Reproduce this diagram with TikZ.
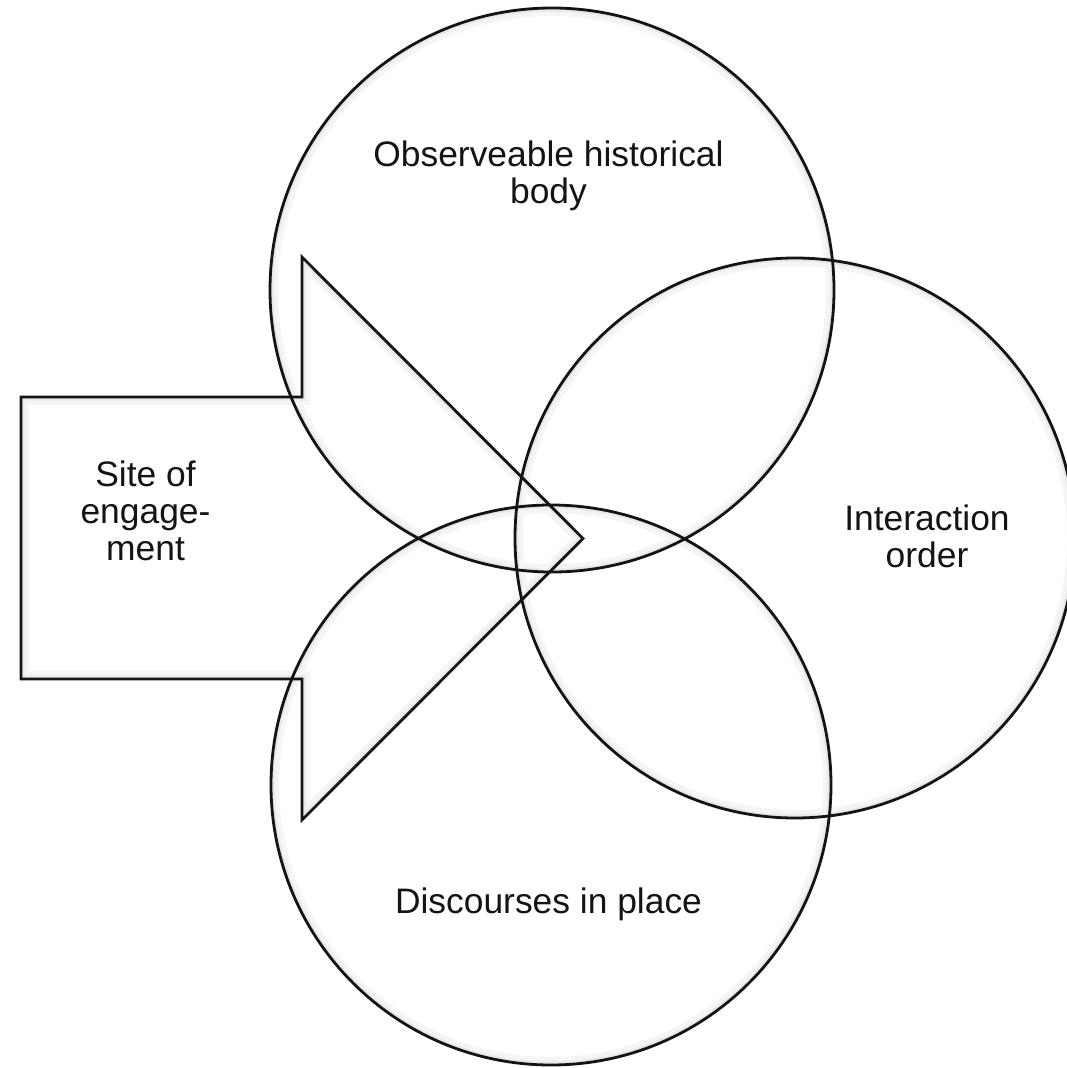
\documentclass[tikz,border=0pt]{standalone}
\usepackage{fontspec}
\setmainfont{Liberation Sans}
\begin{document}
\begin{tikzpicture}[x=1pt,y=-1pt,
  outline/.style={draw=black!92, line width=2.8pt},
  glowA/.style={draw=black!4, line width=16pt},
  glowB/.style={draw=black!9, line width=7pt},
  lbl/.style={align=center, inner sep=0pt, font=\fontsize{35.4}{37}\selectfont, text=black!92}]
\useasboundingbox (0,0) rectangle (1066,1068);
\fill[white] (0,0) rectangle (1066,1068);
\coordinate (cH) at (552,290);
\coordinate (cI) at (795,538);
\coordinate (cD) at (551,785);
% soft inner shading of the shapes
\begin{scope}
  \clip (cH) circle[radius=282];
  \draw[glowA] (cH) circle[radius=282];
  \draw[glowB] (cH) circle[radius=282];
\end{scope}
\begin{scope}
  \clip (cI) circle[radius=280];
  \draw[glowA] (cI) circle[radius=280];
  \draw[glowB] (cI) circle[radius=280];
\end{scope}
\begin{scope}
  \clip (cD) circle[radius=280];
  \draw[glowA] (cD) circle[radius=280];
  \draw[glowB] (cD) circle[radius=280];
\end{scope}
\begin{scope}
  \clip (21,397) -- (302,397) -- (302,257) -- (583,538.5) -- (302,820) -- (302,679) -- (21,679) -- cycle;
  \draw[glowA] (21,397) -- (302,397) -- (302,257) -- (583,538.5) -- (302,820) -- (302,679) -- (21,679) -- cycle;
  \draw[glowB] (21,397) -- (302,397) -- (302,257) -- (583,538.5) -- (302,820) -- (302,679) -- (21,679) -- cycle;
\end{scope}
% outlines
\draw[outline] (cH) circle[radius=282];
\draw[outline] (cI) circle[radius=280];
\draw[outline] (cD) circle[radius=280];
\draw[outline, line join=miter] (21,397) -- (302,397) -- (302,257) -- (583,538.5) -- (302,820) -- (302,679) -- (21,679) -- cycle;
% labels
\node[lbl] (tH) at (548.5,176) {Observeable historical\\body};
\node[lbl] (tI) at (927,536) {Interaction\\order};
\node[lbl] (tS) at (145.5,511) {Site of\\engage-\\ment};
\node[lbl, anchor=base] (tD) at (548.5,913) {Discourses in place};
\end{tikzpicture}
\end{document}
